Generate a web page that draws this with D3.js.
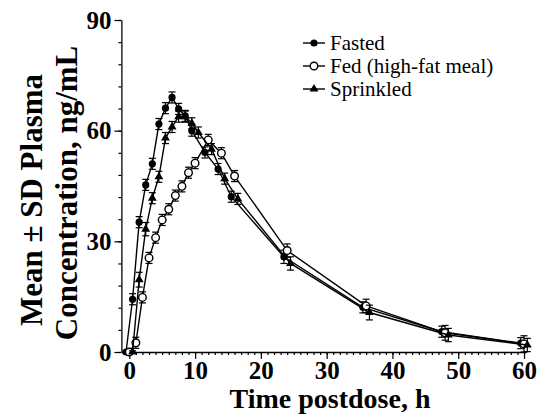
<!DOCTYPE html>
<html><head><meta charset="utf-8">
<script src="https://cdn.jsdelivr.net/npm/d3@7"></script>
<style>body{margin:0;background:#fff}svg{display:block}text{font-family:'Liberation Serif','Times New Roman',serif}</style>
</head><body>
<script>
const times = [0,1,2,3,4,5,6,7,8,9,10,12,14,16,24,36,48,60];
const fasted   = [0,14.3,35.2,45.3,51.0,61.8,66.1,69.0,65.9,64.0,60.0,54.1,49.6,42.1,25.8,12.1,5.5,2.4];
const fastedSD = [0.3,1.5,1.5,1.5,1.5,1.5,1.5,1.5,1.5,1.5,1.5,1.5,1.5,1.5,1.8,1.5,1.5,1.5];
const fed      = [0,2.5,14.8,25.5,31.0,35.8,38.7,42.4,44.9,48.6,51.2,57.5,53.9,47.7,27.5,12.5,5.2,2.2];
const fedSD    = [0.3,1.5,1.5,1.5,1.5,1.5,1.5,1.5,1.5,1.5,1.5,1.5,1.5,1.5,1.8,1.8,2.0,2.2];
const sprinkled   = [0,19.6,33.3,41.7,47.5,58.0,61.0,63.8,63.8,62.0,59.5,55.0,47.0,41.5,24.0,10.7,4.6,1.9];
const sprinkledSD = [0.3,2.0,1.8,1.5,1.5,1.5,1.5,1.5,1.5,1.5,1.5,1.5,1.5,1.5,1.8,2.0,1.8,1.8];
const seriesNames = ["Fasted","Fed (high-fat meal)","Sprinkled"];
const yTicks = [0,30,60,90];
const xTicks = [0,10,20,30,40,50,60];

const W=546,H=415;
const svg=d3.select("body").append("svg").attr("width",W).attr("height",H);
const x=d3.scaleLinear().domain([-1.2,60.3]).range([121.4,526]);
const y=d3.scaleLinear().domain([0,90]).range([352,20]);
const font="'Liberation Serif','Times New Roman',serif";

// axes
const yAx=svg.append("g").attr("transform",`translate(${x(-1.2)},0)`);
yAx.call(d3.axisLeft(y).tickValues(d3.range(0,91,6)).tickSize(3).tickFormat(""));
yAx.call(g=>g.select(".domain").remove());
const yAx2=svg.append("g").attr("transform",`translate(${x(-1.2)},0)`)
  .call(d3.axisLeft(y).tickValues(yTicks).tickSize(7).tickPadding(3).tickSizeOuter(0));
yAx2.attr("font-family",null).attr("font-size",null);
yAx2.selectAll("text").style("font-family",font).style("font-weight","bold").style("font-size","25px").attr("fill","#000");

const xAx=svg.append("g").attr("transform",`translate(0,${y(0)})`);
xAx.call(d3.axisBottom(x).tickValues(d3.range(0,61,1)).tickSize(3).tickFormat(""));
xAx.call(g=>g.select(".domain").remove());
const xAx2=svg.append("g").attr("transform",`translate(0,${y(0)})`)
  .call(d3.axisBottom(x).tickValues(xTicks).tickSize(7).tickPadding(2).tickSizeOuter(0));
xAx2.attr("font-family",null).attr("font-size",null);
xAx2.selectAll("text").style("font-family",font).style("font-weight","bold").style("font-size","25px").attr("fill","#000");
svg.selectAll(".domain").attr("stroke","#000").attr("stroke-width",1.3);
svg.selectAll(".tick line").attr("stroke","#000").attr("stroke-width",1.2);

// titles
svg.append("text").attr("x",330).attr("y",408).attr("text-anchor","middle")
  .style("font-family",font).style("font-weight","bold").style("font-size","28px").text("Time postdose, h");
svg.append("text").attr("transform","translate(42,200) rotate(-90)").attr("text-anchor","middle")
  .style("font-family",font).style("font-weight","bold").style("font-size","31px").text("Mean ± SD Plasma");
svg.append("text").attr("transform","translate(77,193) rotate(-90)").attr("text-anchor","middle")
  .style("font-family",font).style("font-weight","bold").style("font-size","31px").text("Concentration, ng/mL");

// series
const series=[
  {name:seriesNames[0],v:fasted,sd:fastedSD,off:-0.5,type:"filled"},
  {name:seriesNames[1],v:fed,sd:fedSD,off:0,type:"open"},
  {name:seriesNames[2],v:sprinkled,sd:sprinkledSD,off:0.5,type:"tri"}
];
const line=d3.line().x(d=>x(d.t)).y(d=>y(d.v));
function marker(g,type,cx,cy){
  if(type==="filled") g.append("circle").attr("cx",cx).attr("cy",cy).attr("r",3.6).attr("fill","#000");
  else if(type==="open") g.append("circle").attr("cx",cx).attr("cy",cy).attr("r",3.8).attr("fill","#fff").attr("stroke","#000").attr("stroke-width",1.4);
  else g.append("path").attr("transform",`translate(${cx},${cy})`).attr("d",d3.symbol(d3.symbolTriangle,34)()).attr("fill","#000");
}
series.forEach(s=>{
  const pts=times.map((t,i)=>({t:t+s.off,v:s.v[i],sd:s.sd[i]}));
  svg.append("path").datum(pts).attr("d",line).attr("fill","none").attr("stroke","#000").attr("stroke-width",1.4);
  const g=svg.append("g");
  pts.forEach(p=>{
    const px=x(p.t),y1=y(p.v+p.sd),y2=y(p.v-p.sd);
    g.append("line").attr("x1",px).attr("x2",px).attr("y1",y1).attr("y2",y2).attr("stroke","#000").attr("stroke-width",1.2);
    [y1,y2].forEach(yy=>g.append("line").attr("x1",px-3.5).attr("x2",px+3.5).attr("y1",yy).attr("y2",yy).attr("stroke","#000").attr("stroke-width",1.2));
  });
  pts.forEach(p=>marker(g,s.type,x(p.t),y(p.v)));
});

// legend
const lg=svg.append("g");
series.forEach((s,i)=>{
  const cy=43+i*23;
  lg.append("line").attr("x1",303).attr("x2",325).attr("y1",cy).attr("y2",cy).attr("stroke","#000").attr("stroke-width",1.4);
  marker(lg,s.type,314,cy);
  lg.append("text").attr("x",330).attr("y",cy+7).style("font-family",font).style("font-size","21px").text(s.name);
});
</script>
</body></html>
